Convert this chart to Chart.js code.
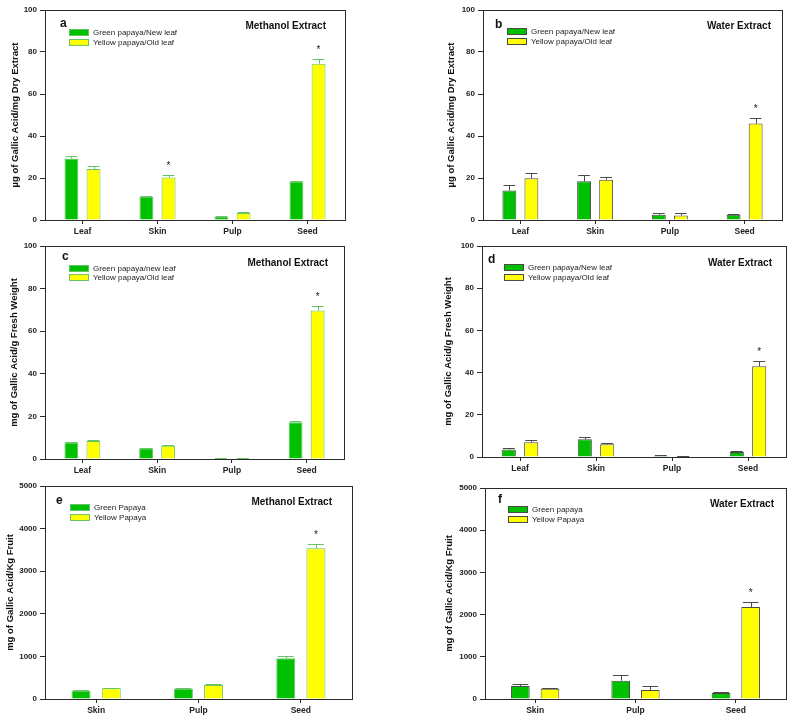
<!DOCTYPE html>
<html>
<head>
<meta charset="utf-8">
<script src="https://cdn.jsdelivr.net/npm/chart.js@4.4.0/dist/chart.umd.min.js"></script>
<style>
  html, body { margin: 0; padding: 0; background: #fff; }
  body { width: 792px; height: 719px; position: relative; overflow: hidden; }
  canvas { position: absolute; }
</style>
</head>
<body>
<canvas id="panelA"></canvas>
<canvas id="panelB"></canvas>
<canvas id="panelC"></canvas>
<canvas id="panelD"></canvas>
<canvas id="panelE"></canvas>
<canvas id="panelF"></canvas>
<script>
// --- Data ---
const organParts = ['Leaf', 'Skin', 'Pulp', 'Seed'];
const fruitParts = ['Skin', 'Pulp', 'Seed'];

// y axis ranges (max / step)
const dryAxis = [100, 20];
const freshAxis = [100, 20];
const fruitAxis = [5000, 1000];

// a: methanol, ug GAE / mg dry extract
const aGreen = [29.3, 11.0, 1.4, 18.3];
const aGreenErr = [1.1, 0.6, 0.3, 0.5];
const aYellow = [24.3, 20.2, 3.3, 74.4];
const aYellowErr = [1.4, 1.0, 0.3, 2.2];
const aStars = ['', '*', '', '*'];

// b: water, ug GAE / mg dry extract
const bGreen = [14.0, 18.4, 2.5, 2.5];
const bGreenErr = [2.9, 2.9, 1.0, 0.5];
const bYellow = [19.9, 19.2, 2.1, 45.9];
const bYellowErr = [2.7, 1.1, 1.0, 2.7];
const bStars = ['', '', '', '*'];

// c: methanol, mg GAE / g fresh weight
const cGreen = [7.7, 5.0, 0.3, 17.3];
const cGreenErr = [0.3, 0.2, 0.1, 0.5];
const cYellow = [8.4, 6.25, 0.3, 69.7];
const cYellowErr = [0.6, 0.3, 0.1, 2.3];
const cStars = ['', '', '', '*'];

// d: water, mg GAE / g fresh weight
const dGreen = [3.6, 8.4, 0.5, 2.4];
const dGreenErr = [0.8, 1.2, 0.3, 0.6];
const dYellow = [7.0, 6.0, 0.3, 43.0];
const dYellowErr = [0.9, 0.5, 0.1, 2.5];
const dStars = ['', '', '', '*'];

// e: methanol, mg GAE / kg fruit
const eGreen = [188, 235, 955];
const eGreenErr = [15, 30, 45];
const eYellow = [250, 329, 3537];
const eYellowErr = [15, 15, 110];
const eStars = ['', '', '*'];

// f: water, mg GAE / kg fruit
const fGreen = [308, 434, 142];
const fGreenErr = [47, 134, 32];
const fYellow = [245, 213, 2180];
const fYellowErr = [24, 95, 118];
const fStars = ['', '', '*'];

// --- Styling ---
const FONT = "'Liberation Sans', Arial, sans-serif";
const GREEN = '#00c000';
const YELLOW = '#ffff00';
const EDGE_LIGHT = '#66c466';
const EDGE_DARK = '#4a4a4a';
const AXIS = '#2a2a2a';

function makePanel(id, p) {
    const canvas = document.getElementById(id);
    const padL = 45, padT = 10, padR = 10, padB = 25;
    const [L, T, R, B] = p.box;
    canvas.width = (R - L) + padL + padR;
    canvas.height = (B - T) + padT + padB;
    canvas.style.left = (L - padL) + 'px';
    canvas.style.top = (T - padT) + 'px';
    canvas.style.width = canvas.width + 'px';
    canvas.style.height = canvas.height + 'px';

    const deco = {
        id: 'deco_' + id,
        afterDatasetsDraw(chart) {
            const ctx = chart.ctx, ys = chart.scales.y;
            [p.greenErr, p.yellowErr].forEach((errs, di) => {
                const meta = chart.getDatasetMeta(di);
                const vals = chart.data.datasets[di].data;
                meta.data.forEach((bar, i) => {
                    const top = Math.round(ys.getPixelForValue(vals[i] + errs[i])) + 0.5;
                    const cx = Math.round(bar.x) + 0.5;
                    const half = bar.width * 0.42;
                    ctx.save();
                    ctx.strokeStyle = p.edge;
                    ctx.lineWidth = 1;
                    ctx.beginPath();
                    ctx.moveTo(cx, bar.y);
                    ctx.lineTo(cx, top);
                    ctx.moveTo(bar.x - half, top);
                    ctx.lineTo(bar.x + half, top);
                    ctx.stroke();
                    if (di === 1 && p.stars[i]) {
                        ctx.fillStyle = '#222';
                        ctx.font = '10px ' + FONT;
                        ctx.textAlign = 'center';
                        ctx.textBaseline = 'middle';
                        ctx.fillText(p.stars[i], bar.x, top - 9);
                    }
                    ctx.restore();
                });
            });
        },
        afterDraw(chart) {
            const ctx = chart.ctx;
            const a = chart.chartArea;
            ctx.save();
            // frame
            ctx.strokeStyle = AXIS;
            ctx.lineWidth = 1;
            ctx.strokeRect(Math.round(a.left) + 0.5, Math.round(a.top) + 0.5,
                Math.round(a.right - a.left), Math.round(a.bottom - a.top));
            // panel letter
            ctx.fillStyle = '#111';
            ctx.font = 'bold 12px ' + FONT;
            ctx.textAlign = 'left';
            ctx.textBaseline = 'alphabetic';
            ctx.fillText(p.letter, a.left + p.letterPos[0], a.top + p.letterPos[1]);
            // panel title
            ctx.font = 'bold 10px ' + FONT;
            ctx.textAlign = 'right';
            ctx.fillText(p.title, a.right - p.titlePos[0], a.top + p.titlePos[1]);
            // legend
            const colors = [GREEN, YELLOW];
            ctx.font = '8px ' + FONT;
            ctx.textAlign = 'left';
            ctx.textBaseline = 'middle';
            p.legend.forEach((label, k) => {
                const bx = Math.round(a.left + p.legendPos[0]);
                const cy = Math.round(a.top + p.legendPos[1] + k * 9.5);
                ctx.fillStyle = colors[k];
                ctx.fillRect(bx, cy - 3, 19, 6);
                ctx.strokeStyle = p.edge;
                ctx.strokeRect(bx + 0.5, cy - 3 + 0.5, 19, 6);
                ctx.fillStyle = '#222';
                ctx.fillText(label, bx + 24, cy + 0.5);
            });
            ctx.restore();
        }
    };

    const lh = 9.5 * 1.2;
    new Chart(canvas, {
        type: 'bar',
        data: {
            labels: p.labels,
            datasets: [
                { label: p.legend[0], data: p.green, backgroundColor: GREEN, borderColor: p.edge, borderWidth: 1 },
                { label: p.legend[1], data: p.yellow, backgroundColor: YELLOW, borderColor: p.edge, borderWidth: 1 }
            ]
        },
        options: {
            responsive: false,
            maintainAspectRatio: false,
            animation: false,
            categoryPercentage: 0.59,
            barPercentage: 0.63,
            layout: { padding: { top: padT, right: padR, left: 0, bottom: 0 } },
            plugins: { legend: { display: false }, tooltip: { enabled: false } },
            scales: {
                x: {
                    afterFit: s => { s.height = padB; },
                    border: { display: false },
                    grid: { offset: false, drawOnChartArea: false, tickLength: 4, color: AXIS },
                    ticks: { padding: 3, color: '#222', font: { family: FONT, size: 8.5, weight: 'bold' } }
                },
                y: {
                    min: 0,
                    max: p.axis[0],
                    afterFit: s => { s.width = padL; },
                    border: { display: false },
                    grid: { drawOnChartArea: false, tickLength: 5, color: AXIS },
                    ticks: {
                        stepSize: p.axis[1], padding: 3, color: '#222',
                        font: { family: FONT, size: 8, weight: 'bold' },
                        callback: v => String(v)
                    },
                    title: {
                        display: true,
                        text: p.yTitle,
                        color: '#111',
                        font: { family: FONT, size: 9.5, weight: 'bold' },
                        padding: { top: padL - p.yTitleOff - lh / 2, bottom: 0 }
                    }
                }
            }
        },
        plugins: [deco]
    });
}

const dryTitle = 'µg of Gallic Acid/mg Dry Extract';
const freshTitle = 'mg of Gallic Acid/g Fresh Weight';
const fruitTitle = 'mg of Gallic Acid/Kg Fruit';

makePanel('panelA', {
    box: [45, 10, 345, 220], labels: organParts, axis: dryAxis, yTitle: dryTitle, yTitleOff: 30,
    green: aGreen, greenErr: aGreenErr, yellow: aYellow, yellowErr: aYellowErr, stars: aStars,
    edge: EDGE_LIGHT, letter: 'a', letterPos: [15, 17], title: 'Methanol Extract', titlePos: [19, 19],
    legend: ['Green papaya/New leaf', 'Yellow papaya/Old leaf'], legendPos: [24, 22]
});
makePanel('panelB', {
    box: [483, 10, 782, 220], labels: organParts, axis: dryAxis, yTitle: dryTitle, yTitleOff: 31.5,
    green: bGreen, greenErr: bGreenErr, yellow: bYellow, yellowErr: bYellowErr, stars: bStars,
    edge: EDGE_DARK, letter: 'b', letterPos: [12, 18], title: 'Water Extract', titlePos: [11, 19],
    legend: ['Green papaya/New leaf', 'Yellow papaya/Old leaf'], legendPos: [24, 21]
});
makePanel('panelC', {
    box: [45, 246, 344, 459], labels: organParts, axis: freshAxis, yTitle: freshTitle, yTitleOff: 31,
    green: cGreen, greenErr: cGreenErr, yellow: cYellow, yellowErr: cYellowErr, stars: cStars,
    edge: EDGE_LIGHT, letter: 'c', letterPos: [17, 14], title: 'Methanol Extract', titlePos: [16, 20],
    legend: ['Green papaya/new leaf', 'Yellow papaya/Old leaf'], legendPos: [24, 21.5]
});
makePanel('panelD', {
    box: [482, 246, 786, 457], labels: organParts, axis: freshAxis, yTitle: freshTitle, yTitleOff: 33.5,
    green: dGreen, greenErr: dGreenErr, yellow: dYellow, yellowErr: dYellowErr, stars: dStars,
    edge: EDGE_DARK, letter: 'd', letterPos: [6, 17], title: 'Water Extract', titlePos: [14, 20],
    legend: ['Green papaya/New leaf', 'Yellow papaya/Old leaf'], legendPos: [22, 21]
});
makePanel('panelE', {
    box: [45, 486, 352, 699], labels: fruitParts, axis: fruitAxis, yTitle: fruitTitle, yTitleOff: 35,
    green: eGreen, greenErr: eGreenErr, yellow: eYellow, yellowErr: eYellowErr, stars: eStars,
    edge: EDGE_LIGHT, letter: 'e', letterPos: [11, 18], title: 'Methanol Extract', titlePos: [20, 19],
    legend: ['Green Papaya', 'Yellow Papaya'], legendPos: [25, 21]
});
makePanel('panelF', {
    box: [485, 488, 786, 699], labels: fruitParts, axis: fruitAxis, yTitle: fruitTitle, yTitleOff: 36,
    green: fGreen, greenErr: fGreenErr, yellow: fYellow, yellowErr: fYellowErr, stars: fStars,
    edge: EDGE_DARK, letter: 'f', letterPos: [13, 15], title: 'Water Extract', titlePos: [12, 19],
    legend: ['Green papaya', 'Yellow Papaya'], legendPos: [23, 21]
});
</script>
</body>
</html>
